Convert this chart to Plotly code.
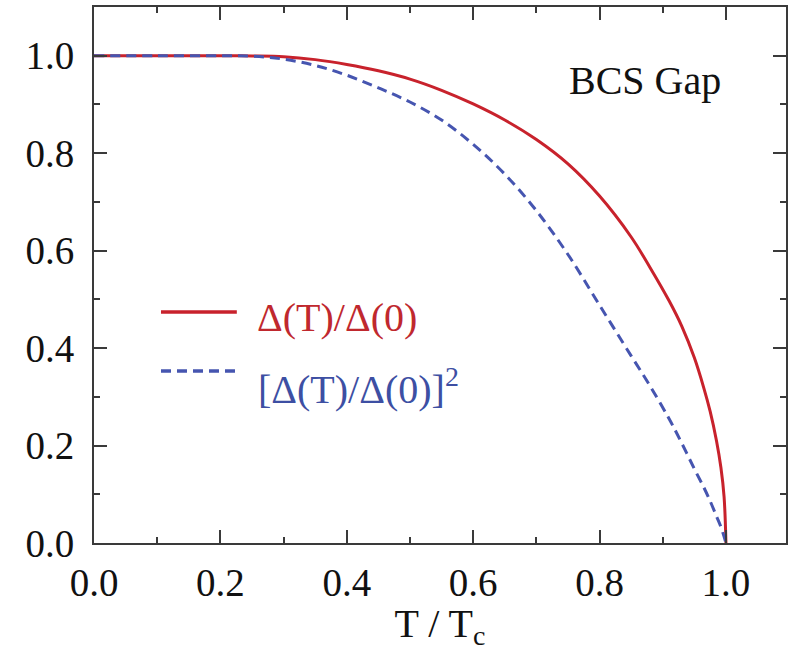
import plotly.graph_objects as go

# Reduced temperature T/Tc
t_gap = [0.0, 0.1, 0.2, 0.25, 0.3, 0.35, 0.4, 0.45, 0.5, 0.55, 0.6, 0.65, 0.7,
         0.75, 0.8, 0.85, 0.88, 0.91, 0.93, 0.95, 0.965, 0.975, 0.985, 0.992,
         0.997, 1.0]
# Delta(T)/Delta(0)
gap = [1.0, 1.0, 1.0, 0.9995, 0.998, 0.992, 0.982, 0.969, 0.952, 0.929, 0.901,
       0.868, 0.828, 0.778, 0.712, 0.628, 0.565, 0.497, 0.445, 0.38, 0.318, 0.27,
       0.21, 0.155, 0.095, 0.0]

t_sq = [0.0, 0.1, 0.2, 0.25, 0.3, 0.35, 0.4, 0.45, 0.5, 0.55, 0.6, 0.65, 0.7,
        0.75, 0.8, 0.85, 0.88, 0.91, 0.93, 0.95, 0.965, 0.975, 0.985, 0.992,
        0.997, 1.0]
# [Delta(T)/Delta(0)]^2
gap_sq = [1.0, 1.0, 1.0, 0.999, 0.993, 0.98, 0.96, 0.934, 0.905, 0.868, 0.818,
          0.757, 0.682, 0.592, 0.488, 0.384, 0.322, 0.255, 0.205, 0.152, 0.114,
          0.086, 0.055, 0.033, 0.013, 0.0]

tick_vals = [0.0, 0.2, 0.4, 0.6, 0.8, 1.0]
tick_text = ["0.0", "0.2", "0.4", "0.6", "0.8", "1.0"]

RED = "#c8222c"
BLUE = "#4655b0"
FONT = "Liberation Serif"

fig = go.Figure()
fig.add_trace(go.Scatter(x=t_gap, y=gap, mode="lines",
                         line=dict(color=RED, width=3, shape="spline", smoothing=1.0),
                         showlegend=False))
fig.add_trace(go.Scatter(x=t_sq, y=gap_sq, mode="lines",
                         line=dict(color=BLUE, width=3, dash="10px,6px",
                                   shape="spline", smoothing=1.0),
                         showlegend=False))

axis_common = dict(
    showgrid=False, zeroline=False, showline=True, linecolor="#3a3a3a",
    linewidth=2, mirror="ticks", ticks="inside", ticklen=13, tickwidth=1.5,
    tickcolor="#3a3a3a", tickvals=tick_vals, ticktext=tick_text,
    tickfont=dict(family=FONT, size=39, color="#111"),
    minor=dict(dtick=0.1, tick0=0, ticks="inside", ticklen=6, tickwidth=1.5,
               tickcolor="#3a3a3a", showgrid=False),
)

fig.update_xaxes(range=[0, 1.095], ticklabelstandoff=4,
                 title=dict(text="T / T<sub>c</sub>",
                            font=dict(family=FONT, size=40, color="#111"),
                            standoff=6),
                 **axis_common)
fig.update_yaxes(range=[0, 1.1], ticklabelstandoff=10, **axis_common)

# legend samples
fig.add_shape(type="line", x0=0.106, x1=0.226, y0=0.474, y1=0.474,
              line=dict(color=RED, width=3.5))
fig.add_shape(type="line", x0=0.106, x1=0.226, y0=0.353, y1=0.353,
              line=dict(color=BLUE, width=3.5, dash="10px,6px"))

fig.add_annotation(x=0.254, y=0.462, xref="x", yref="y", text="Δ(T)/Δ(0)",
                   showarrow=False, xanchor="left", yanchor="middle",
                   font=dict(family=FONT, size=40, color="#c0282e"))
fig.add_annotation(x=0.257, y=0.322, xref="x", yref="y",
                   text="[Δ(T)/Δ(0)]<sup>2</sup>",
                   showarrow=False, xanchor="left", yanchor="middle",
                   font=dict(family=FONT, size=40, color="#3d4fa3"))
fig.add_annotation(x=0.748, y=0.949, xref="x", yref="y", text="BCS Gap",
                   showarrow=False, xanchor="left", yanchor="middle",
                   font=dict(family=FONT, size=40, color="#111"))

fig.update_layout(
    width=789, height=651,
    margin=dict(l=94, r=1, t=7, b=108),
    paper_bgcolor="white", plot_bgcolor="white",
    showlegend=False,
)

fig.write_html("out.html")
